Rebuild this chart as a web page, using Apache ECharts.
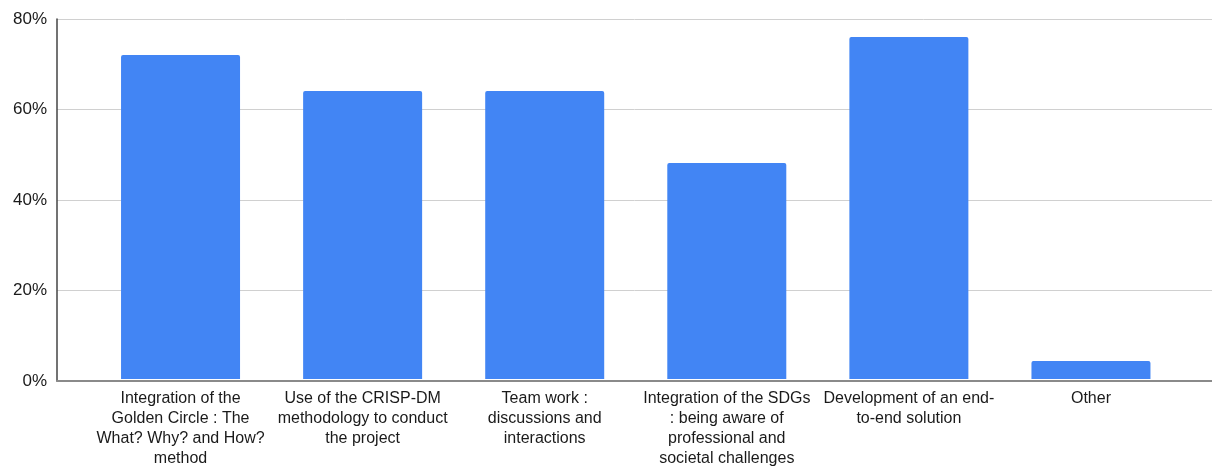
<!DOCTYPE html>
<html><head><meta charset="utf-8">
<script src="https://cdn.jsdelivr.net/npm/echarts@6/dist/echarts.min.js"></script>
<style>html,body{margin:0;padding:0;background:#fff}#c{width:1212px;height:469px}</style>
</head><body><div id="c"></div>
<script>
const categories = [
  'Integration of the\nGolden Circle : The\nWhat? Why? and How?\nmethod',
  'Use of the CRISP-DM\nmethodology to conduct\nthe project',
  'Team work :\ndiscussions and\ninteractions',
  'Integration of the SDGs\n: being aware of\nprofessional and\nsocietal challenges',
  'Development of an end-\nto-end solution',
  'Other'
];
const values = [72, 64, 64, 48, 76, 4];
const yTicks = [0, 20, 40, 60, 80];

const chart = echarts.init(document.getElementById('c'));
const font = 'Liberation Sans, Arial, sans-serif';
chart.setOption({
  animation: false,
  grid: [
    {left: 57, right: 0, top: 19, bottom: 88},
    {left: 89.5, right: 30, top: 19, bottom: 88}
  ],
  xAxis: [
    {gridIndex: 0, type: 'value', min: 0, max: 1, show: true,
     axisLine: {show: true, onZero: false, lineStyle: {color: '#8a8a8a', width: 2}},
     axisTick: {show: false}, axisLabel: {show: false}, splitLine: {show: false}},
    {gridIndex: 1, type: 'category', data: categories,
     axisLine: {show: false}, axisTick: {show: false},
     axisLabel: {interval: 0, color: '#1a1a1a', fontSize: 16, fontFamily: font, lineHeight: 20, margin: 10}}
  ],
  yAxis: [
    {gridIndex: 0, type: 'value', min: yTicks[0], max: yTicks[yTicks.length - 1], interval: 20,
     axisLine: {show: true, lineStyle: {color: '#444', width: 1.5}},
     axisTick: {show: false},
     splitLine: {show: true, lineStyle: {color: '#d0d0d0', width: 1}},
     axisLabel: {formatter: v => v + '%', color: '#1a1a1a', fontSize: 17, fontFamily: font, margin: 10}},
    {gridIndex: 1, type: 'value', min: 0, max: 80, interval: 20, show: false}
  ],
  series: [{
    type: 'bar', xAxisIndex: 1, yAxisIndex: 1, data: values,
    barWidth: 119,
    itemStyle: {color: '#4285f4', borderRadius: [2, 2, 0, 0]}
  }]
});
</script></body></html>
